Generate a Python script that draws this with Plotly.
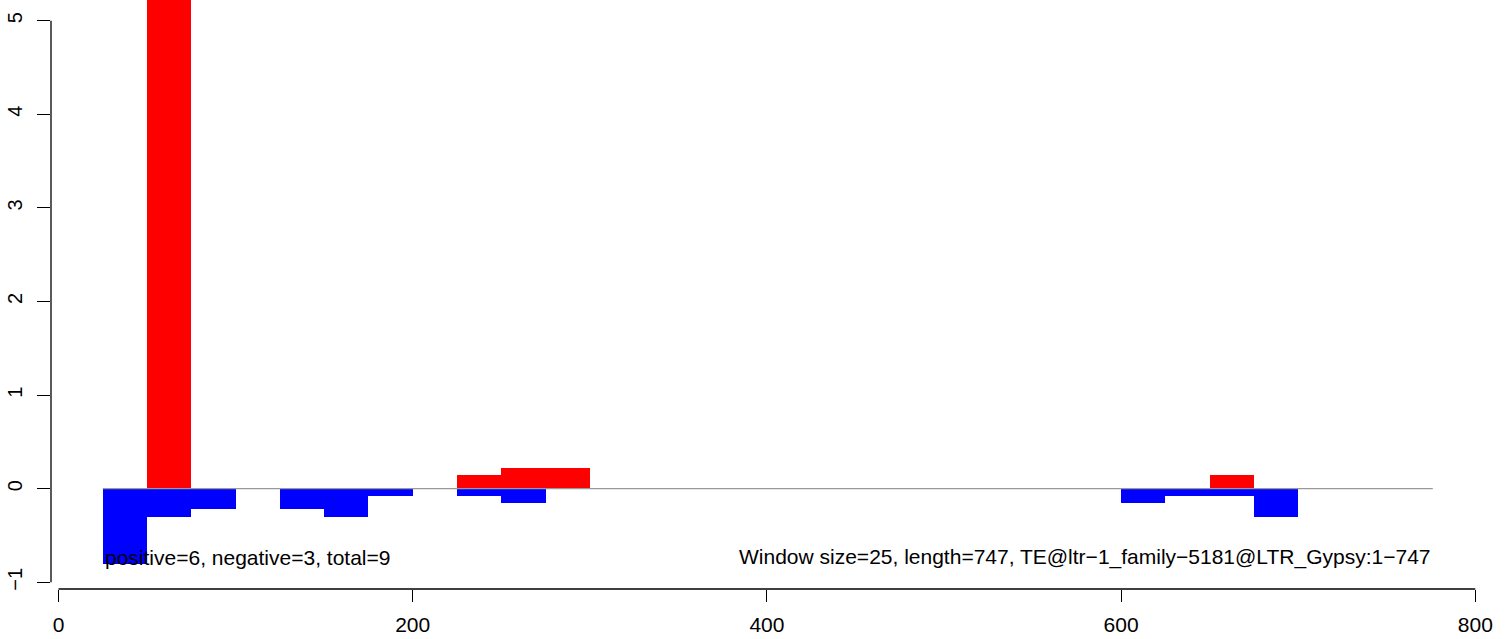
import plotly.graph_objects as go

# Data
window_size = 25
pos_starts = [50, 225, 250, 275, 650]
pos_values = [6.0, 0.15, 0.225, 0.225, 0.15]
neg_starts = [25, 50, 75, 125, 150, 175, 225, 250, 600, 625, 650, 675]
neg_values = [-0.80, -0.30, -0.22, -0.22, -0.30, -0.075, -0.075, -0.15, -0.15, -0.075, -0.075, -0.30]
x_ticks = [0, 200, 400, 600, 800]
y_ticks = [-1, 0, 1, 2, 3, 4, 5]
baseline_start, baseline_end = 25, 776
left_label = "positive=6, negative=3, total=9"
right_label = "Window size=25, length=747, TE@ltr\u22121_family\u22125181@LTR_Gypsy:1\u2212747"

FONT = "Liberation Sans, Arial, Helvetica, sans-serif"

fig = go.Figure()
fig.add_trace(go.Bar(
    x=[s + window_size / 2 for s in neg_starts], y=neg_values, width=window_size,
    marker=dict(color="#0000FF", line=dict(width=0)), showlegend=False,
))
fig.add_trace(go.Bar(
    x=[s + window_size / 2 for s in pos_starts], y=pos_values, width=window_size,
    marker=dict(color="#FF0000", line=dict(width=0)), showlegend=False,
))

# zero line
fig.add_shape(type="line", xref="x", yref="y", x0=baseline_start, x1=baseline_end, y0=0, y1=0,
              line=dict(color="#999999", width=1.2), layer="above")
# axis lines
fig.add_shape(type="line", xref="x", yref="paper", x0=x_ticks[0], x1=x_ticks[-1], y0=0, y1=0,
              line=dict(color="black", width=1.3))
fig.add_shape(type="line", xref="paper", yref="y", x0=0, x1=0, y0=y_ticks[0], y1=y_ticks[-1],
              line=dict(color="black", width=1.3))

fig.add_annotation(x=baseline_start, y=-0.73, xref="x", yref="y", text=left_label,
                   showarrow=False, xanchor="left", yanchor="middle",
                   font=dict(family=FONT, size=21, color="black"))
fig.add_annotation(x=baseline_end, y=-0.73, xref="x", yref="y", text=right_label,
                   showarrow=False, xanchor="right", yanchor="middle",
                   font=dict(family=FONT, size=21, color="black"))

fig.update_layout(
    width=1509, height=639,
    margin=dict(l=51, r=9, t=0, b=50),
    plot_bgcolor="white", paper_bgcolor="white",
    barmode="overlay", bargap=0,
    xaxis=dict(range=[(51 - 58.5) / 1.771, (1500 - 58.5) / 1.771],
               tickvals=x_ticks, ticktext=[str(v) for v in x_ticks],
               ticks="outside", ticklen=12, tickwidth=1.3, tickcolor="black",
               ticklabelstandoff=5,
               showgrid=False, zeroline=False, showline=False,
               tickfont=dict(family=FONT, size=21, color="black")),
    yaxis=dict(range=[(488.7 - 589) / 93.6, 488.7 / 93.6],
               tickvals=y_ticks, ticktext=[str(v).replace("-", "\u2212") for v in y_ticks],
               ticks="outside", ticklen=13, tickwidth=1.3, tickcolor="black",
               tickangle=-90, ticklabelstandoff=7,
               showgrid=False, zeroline=False, showline=False,
               tickfont=dict(family=FONT, size=20, color="black")),
)

fig.write_html("out.html", config={"displayModeBar": False},
               post_script="document.body.style.margin='0';document.body.style.overflow='hidden';")
